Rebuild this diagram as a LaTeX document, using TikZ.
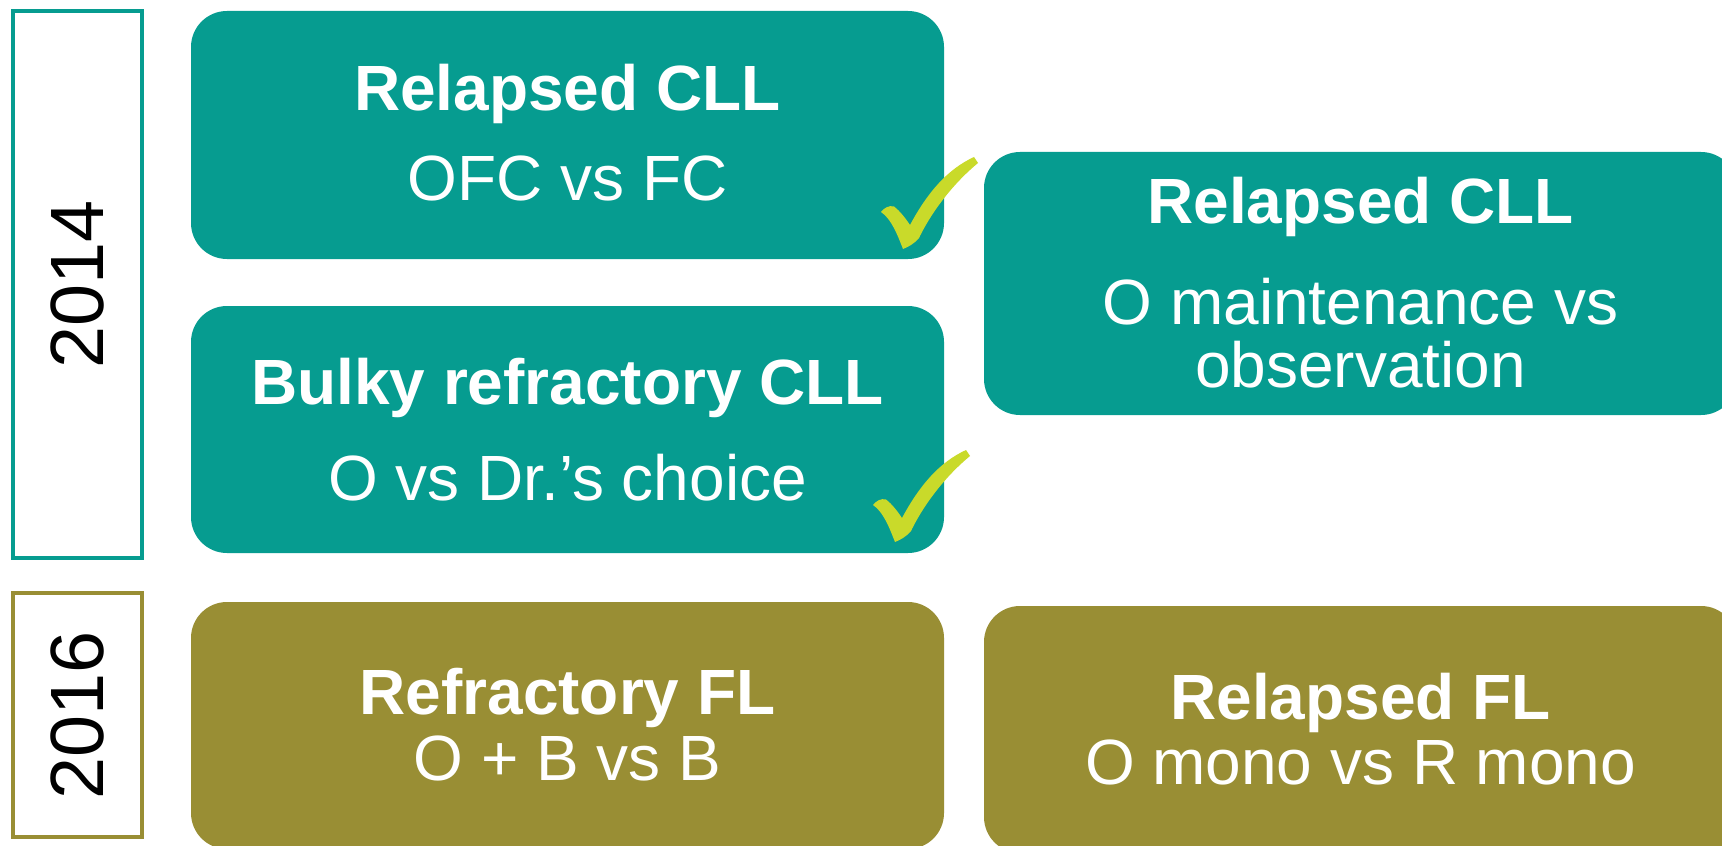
\documentclass[tikz,border=0pt]{standalone}
\usepackage{fontspec}
\setmainfont{Liberation Sans}
\usetikzlibrary{positioning,calc}
\definecolor{cllteal}{HTML}{069C90}
\definecolor{flolive}{HTML}{998E34}
\definecolor{tickgreen}{HTML}{C9DA2A}
\tikzset{
    trialbox/.style={rounded corners=0.72cm, minimum width=15.06cm, inner sep=0pt},
    cllbox/.style={trialbox, fill=cllteal},
    flbox/.style={trialbox, fill=flolive},
    yearbox/.style={draw, line width=2.3pt, rotate=90, inner sep=0pt, font=\fontsize{43pt}{50pt}\selectfont},
    head/.style={anchor=base, text=white, font=\fontsize{36.4pt}{44pt}\selectfont\bfseries},
    arm/.style={anchor=base, text=white, font=\fontsize{36.4pt}{44pt}\selectfont},
    okmark/.pic={
        \fill[tickgreen] (0,0) .. controls (-0.08,0.2) and (-0.22,0.6) .. (-0.44,0.74)
            .. controls (-0.38,0.82) and (-0.28,0.88) .. (-0.18,0.85)
            .. controls (-0.06,0.76) and (0.06,0.6) .. (0.14,0.48)
            .. controls (0.5,1.15) and (0.9,1.6) .. (1.42,1.84)
            -- (1.50,1.72)
            .. controls (1.05,1.35) and (0.6,0.8) .. (0.32,0.22)
            .. controls (0.22,0.1) and (0.1,0.04) .. (0,0) -- cycle;
    },
}
\begin{document}
\begin{tikzpicture}[scale=1]
    \useasboundingbox (0,0) rectangle (34.44,-16.92);
    \fill[white] (0,0) rectangle (34.44,-16.92);
    \clip (0,0) rectangle (34.44,-16.92);

    % Year frames
    \node[yearbox, draw=cllteal, minimum width=10.94cm, minimum height=2.58cm] (y2014) at (1.55,-5.69) {2014};
    \node[yearbox, draw=flolive, minimum width=4.88cm, minimum height=2.58cm] (y2016) at (1.55,-14.30) {2016};

    % CLL trials
    \node[cllbox, minimum height=4.96cm] (relcll) at (11.35,-2.70) {};
    \node[cllbox, minimum height=4.94cm] (bulky) at (11.35,-8.59) {};
    \node[cllbox, minimum height=5.26cm] (maint) at (27.21,-5.67) {};

    % FL trials
    \node[flbox, minimum height=4.94cm] (refl) at (11.35,-14.51) {};
    \node[flbox, minimum height=4.94cm] (relfl) at (27.21,-14.59) {};

    % Texts
    \node[head] (relcllT) at (11.35,-2.22) {Relapsed CLL};
    \node[arm] (relcllA) at (11.35,-4.02) {OFC vs FC};
    \node[head] (bulkyT) at (11.35,-8.08) {Bulky refractory CLL};
    \node[arm] (bulkyA) at (11.35,-10.00) {O vs Dr.’s choice};
    \node[head] (maintT) at (27.21,-4.47) {Relapsed CLL};
    \node[arm] (maintA) at (27.21,-6.48) {O maintenance vs};
    \node[arm] (maintB) at (27.21,-7.74) {observation};
    \node[head] (reflT) at (11.35,-14.28) {Refractory FL};
    \node[arm] (reflA) at (11.35,-15.60) {O + B vs B};
    \node[head] (relflT) at (27.21,-14.38) {Relapsed FL};
    \node[arm] (relflA) at (27.21,-15.68) {O mono vs R mono};

    % Ticks
    \pic (tickA) at (18.06,-4.98) {okmark};
    \pic (tickB) at (17.90,-10.84) {okmark};
\end{tikzpicture}
\end{document}
